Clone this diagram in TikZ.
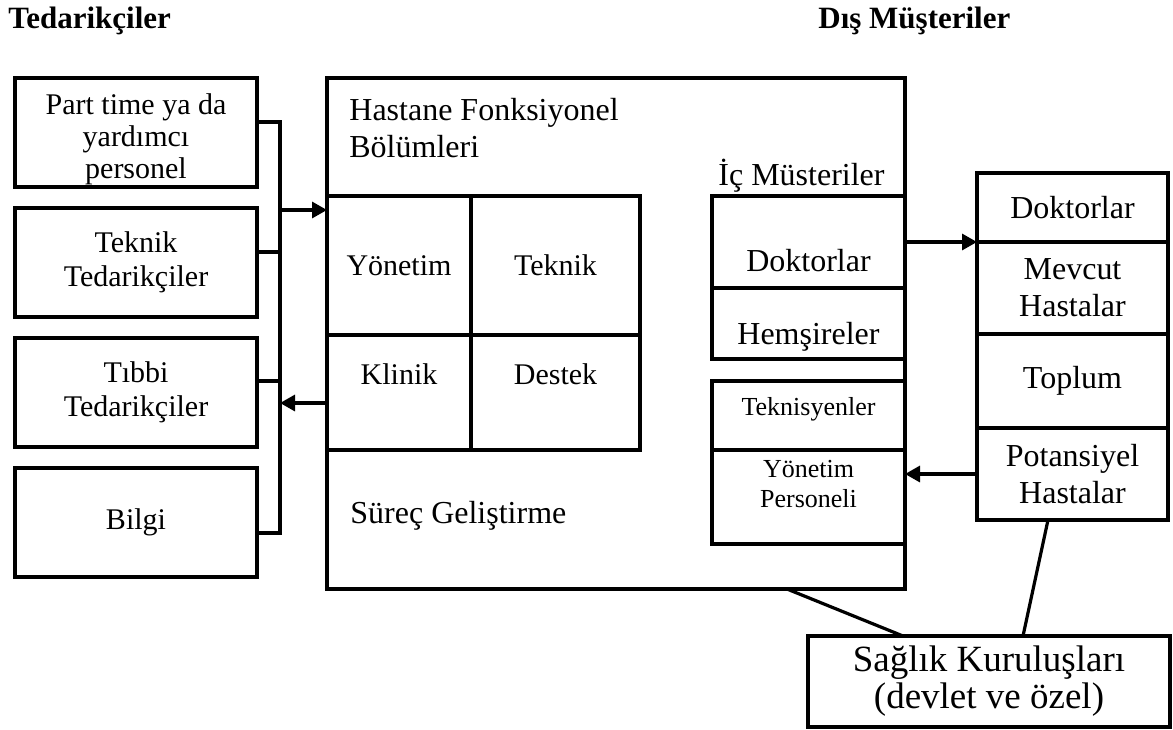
\documentclass[tikz,border=0pt]{standalone}
\usepackage{fontspec}
\setmainfont{Liberation Serif}
\usetikzlibrary{positioning,arrows.meta}

\begin{document}
\begin{tikzpicture}[x=0.5pt, y=-0.5pt,
  box/.style={draw, line width=1.6pt, outer sep=0pt, align=center,
              font=\fontsize{16}{18.5}\selectfont},
  supplier/.style={box, minimum width=121pt, minimum height=54.5pt,
                   font=\fontsize{15}{17}\selectfont},
  cell/.style={box, minimum width=72pt, font=\fontsize{15}{17}\selectfont},
  small/.style={font=\fontsize{13}{15}\selectfont},
  title/.style={font=\fontsize{15.5}{18}\selectfont\bfseries,
                inner sep=0pt, anchor=base west},
  lbl/.style={font=\fontsize{16}{18.5}\selectfont, inner sep=0pt, align=left},
  conn/.style={line width=1.6pt},
  arr/.style={conn, -{Triangle[length=7.5pt, width=8pt]}}
]
  \useasboundingbox (0,0) rectangle (1173,729);

  % titles
  \node[title] (supt) at (8,28)   {Tedarikçiler};
  \node[title] (cust) at (818,28) {Dış Müşteriler};

  % suppliers
  \node[supplier, text height=49pt, inner ysep=0pt, font=\fontsize{15}{16}\selectfont]
        (s1) at (136,132.5) {Part time ya da\\yardımcı\\personel};
  \node[supplier, below=10.5pt of s1] (s2) {Teknik\\Tedarikçiler};
  \node[supplier, below=10.5pt of s2] (s3) {Tıbbi\\Tedarikçiler};
  \node[supplier, below=10.5pt of s3] (s4) {Bilgi};

  % hospital
  \node[draw, line width=1.6pt, outer sep=0pt, minimum width=289pt,
        minimum height=255.5pt] (hosp) at (616,333.5) {};
  \node[lbl, anchor=north west] (hosplbl) at (349,98) {Hastane Fonksiyonel\\Bölümleri};
  \node[lbl, anchor=base west] (surec) at (350,523) {Süreç Geliştirme};

  \node[cell, minimum height=69.5pt, anchor=north west] (yon) at (327,196) {Yönetim};
  \node[cell, minimum width=84.5pt, minimum height=69.5pt, right=0pt of yon] (tek) {Teknik};
  \node[cell, minimum height=57.5pt, text depth=18pt, below=0pt of yon] (kli) {Klinik};
  \node[cell, minimum width=84.5pt, minimum height=57.5pt, text depth=18pt,
        below=0pt of tek] (des) {Destek};

  % internal customers
  \node[box, minimum width=96.5pt, minimum height=46pt, text height=30pt,
        anchor=north east] (icdok) at (905,196) {Doktorlar};
  \node[box, minimum width=96.5pt, minimum height=35.5pt, text height=21pt,
        text depth=0pt, below=0pt of icdok] (ichem) {Hemşireler};
  \node[above=0pt of icdok, inner sep=1.5pt, xshift=-3.5pt,
        font=\fontsize{16}{18.5}\selectfont] (iclbl) {İç Müsteriler};
  \node[box, small, minimum width=96.5pt, minimum height=34.5pt, text height=9pt,
        text depth=9.4pt, anchor=north east] (ictek) at (905,381) {Teknisyenler};
  \node[box, small, minimum width=96.5pt, minimum height=47pt, text depth=13pt,
        inner ysep=2pt, below=0pt of ictek] (icyon) {Yönetim\\Personeli};

  % external customers
  \node[box, minimum width=95.5pt, minimum height=34.5pt, anchor=north west]
        (ext1) at (977,173) {Doktorlar};
  \node[box, minimum width=95.5pt, minimum height=46pt, below=0pt of ext1] (ext2) {Mevcut\\Hastalar};
  \node[box, minimum width=95.5pt, minimum height=47pt, below=0pt of ext2] (ext3) {Toplum};
  \node[box, minimum width=95.5pt, minimum height=46pt, below=0pt of ext3] (ext4) {Potansiyel\\Hastalar};

  \node[box, minimum width=181pt, minimum height=45.5pt, inner ysep=2pt,
        font=\fontsize{18.5}{18.5}\selectfont, anchor=north west]
        (sag) at (808,636) {Sağlık Kuruluşları\\(devlet ve özel)};

  % supplier bus
  \coordinate (busbot) at (280,533);
  \coordinate (busin)  at (280,210);
  \coordinate (busout) at (280,403);
  \draw[conn] ([yshift=5.25pt]s1.east) -| (busbot) -- ([yshift=-5.25pt]s4.east);
  \draw[conn] ([yshift=5.25pt]s2.east) -- ++(11.5pt,0);
  \draw[conn] ([yshift=5.75pt]s3.east) -- ++(11.5pt,0);
  \draw[arr] (busin) -- (busin -| hosp.west);
  \draw[arr] (busout -| hosp.west) -- (busout);

  % customers
  \draw[arr] (hosp.east |- ext1.south) -- (ext1.south west);
  \draw[arr] (ext4.west) -- (ext4.west -| hosp.east);
  \draw[conn] ([xshift=85.5pt]hosp.south) -- ([xshift=-43pt]sag.north);
  \draw[conn] ([xshift=-12.25pt]ext4.south) -- ([xshift=17pt]sag.north);
\end{tikzpicture}
\end{document}
